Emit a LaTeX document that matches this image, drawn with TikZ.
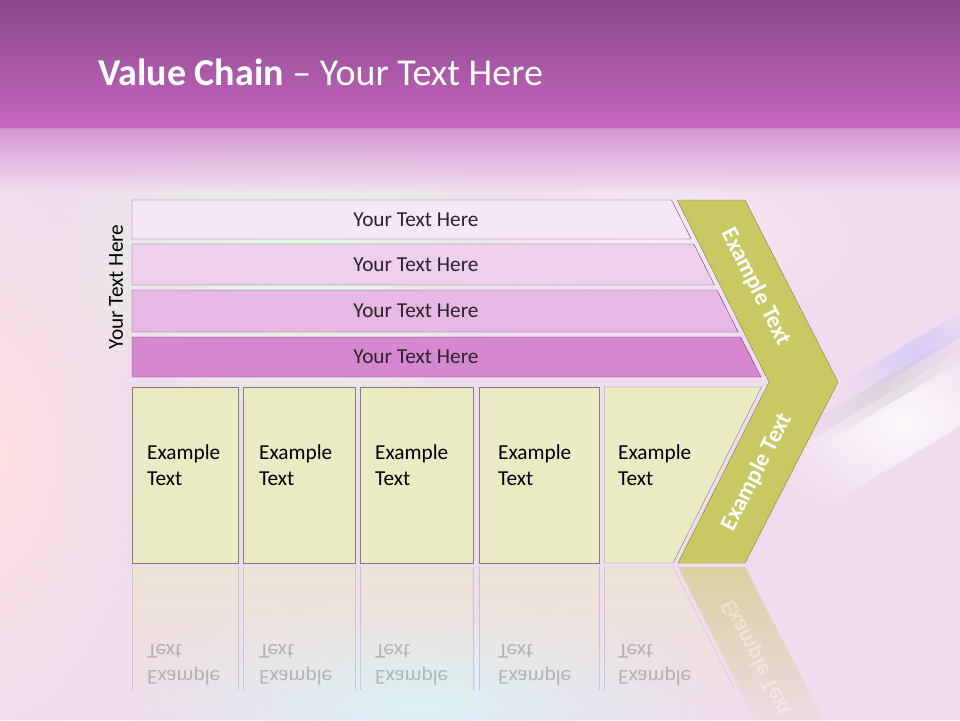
\documentclass[tikz,border=0pt]{standalone}
\usepackage{fontspec}
\setmainfont{Carlito}
\usetikzlibrary{fadings}
\definecolor{bandtop}{RGB}{137,72,137}
\definecolor{bandbot}{RGB}{197,102,192}
\definecolor{paper}{RGB}{240,220,239}
\definecolor{barA}{RGB}{246,232,246}
\definecolor{barB}{RGB}{238,208,237}
\definecolor{barC}{RGB}{230,184,228}
\definecolor{barD}{RGB}{213,136,208}
\definecolor{barline}{RGB}{125,55,125}
\definecolor{bartextcol}{RGB}{45,35,45}
\definecolor{boxfill}{RGB}{234,234,196}
\definecolor{boxline}{RGB}{128,128,118}
\definecolor{chevfill}{RGB}{201,201,99}
\definecolor{chevline}{RGB}{130,130,60}
\tikzfading[name=softglow, inner color=transparent!0, outer color=transparent!100]
\tikzfading[name=reflfade, top color=transparent!45, bottom color=transparent!100]
\begin{document}
\begin{tikzpicture}[x=1pt, y=-1pt,
    bartext/.style={font=\fontsize{21.3}{25}\selectfont, text=bartextcol},
    boxtext/.style={font=\fontsize{21.3}{26}\selectfont, align=left, anchor=west, inner sep=0pt},
    chevtext/.style={font=\fontsize{23.5}{27}\selectfont\bfseries, text=white}]
    \useasboundingbox (0,0) rectangle (960,720);
    % background
    \fill[paper] (0,0) rectangle (960,720);
    \fill[pink!45!white, path fading=softglow] (-200,150) rectangle (160,760);
    \fill[green!12!white, path fading=softglow] (40,110) rectangle (560,420);
    \fill[white, fill opacity=0.5, path fading=softglow] (440,150) rectangle (860,330);
    \fill[cyan!14!white, path fading=softglow] (120,590) rectangle (720,820);
    \fill[white, fill opacity=0.8, path fading=softglow, rotate around={31:(890,410)}] (750,395) rectangle (1040,460);
    \fill[black!20, fill opacity=0.5, path fading=softglow, rotate around={31:(885,395)}] (770,380) rectangle (1010,405);
    \fill[blue!25, fill opacity=0.5, path fading=softglow, rotate around={31:(900,362)}] (820,350) rectangle (1020,372);
    \shade[top color=bandtop, bottom color=bandbot] (0,0) rectangle (960,128);
    \shade[top color=bandbot!65!paper, bottom color=paper, fill opacity=0.9] (0,128) rectangle (960,190);
    \node[anchor=base west, text=white, font=\fontsize{38}{42}\selectfont, inner sep=0pt] (title) at (98,85) {\textbf{Value Chain} – Your Text Here};
    % bars
    \filldraw[fill=barA, draw=barline] (132,200) -- (671.5,200) -- (691.2,239) -- (132,239) -- cycle;
    \filldraw[fill=barB, draw=barline] (132,244) -- (693.7,244) -- (714.4,285) -- (132,285) -- cycle;
    \filldraw[fill=barC, draw=barline] (132,290) -- (717,290) -- (738.2,332) -- (132,332) -- cycle;
    \filldraw[fill=barD, draw=barline] (132,337) -- (740.7,337) -- (760.9,377) -- (132,377) -- cycle;
    \node[bartext] (barone) at (416,219.5) {Your Text Here};
    \node[bartext] (bartwo) at (416,265) {Your Text Here};
    \node[bartext] (barthree) at (416,311) {Your Text Here};
    \node[bartext] (barfour) at (416,357) {Your Text Here};
    \node[bartext, text=black, rotate=90] (sidelabel) at (116,287) {Your Text Here};
    % boxes
    \filldraw[fill=boxfill, draw=boxline] (132,387) rectangle (238.5,563);
    \filldraw[fill=boxfill, draw=boxline] (243.5,387) rectangle (355.5,563);
    \filldraw[fill=boxfill, draw=boxline] (360.5,387) rectangle (473.5,563);
    \filldraw[fill=boxfill, draw=boxline] (479.5,387) rectangle (599,563);
    \filldraw[fill=boxfill, draw=boxline] (604.5,387) -- (761.5,387) -- (673,563) -- (604.5,563) -- cycle;
    \node[boxtext] (boxone) at (147,465) {Example\\Text};
    \node[boxtext] (boxtwo) at (259,465) {Example\\Text};
    \node[boxtext] (boxthree) at (375,465) {Example\\Text};
    \node[boxtext] (boxfour) at (498,465) {Example\\Text};
    \node[boxtext] (boxfive) at (618,465) {Example\\Text};
    % chevron
    \filldraw[fill=chevfill, draw=chevline] (677,200) -- (745,200) -- (838,382) -- (745,563) -- (678,563) -- (769,382) -- cycle;
    \node[chevtext, rotate=-63] (chevup) at (756,287) {Example Text};
    \node[chevtext, rotate=63] (chevdown) at (757,472) {Example Text};
    % reflection
    \fill[boxfill, path fading=reflfade] (132,567) rectangle (238.5,741);
    \fill[boxfill, path fading=reflfade] (243.5,567) rectangle (355.5,741);
    \fill[boxfill, path fading=reflfade] (360.5,567) rectangle (473.5,741);
    \fill[boxfill, path fading=reflfade] (479.5,567) rectangle (599,741);
    \fill[boxfill, path fading=reflfade] (604.5,567) -- (673,567) -- (761.5,743) -- (604.5,743) -- cycle;
    \fill[chevfill, path fading=reflfade] (678,567) -- (745,567) -- (838,748) -- (769,748) -- cycle;
    \foreach \lx in {132,238.5,243.5,355.5,360.5,473.5,479.5,599,604.5}
        \draw[boxline, draw opacity=0.3] (\lx,567) -- (\lx,690);
    \draw[boxline, draw opacity=0.3] (673,567) -- (735,690);
    \node[boxtext, text opacity=0.22, yscale=-1] (mirone) at (147,665) {Example\\Text};
    \node[boxtext, text opacity=0.22, yscale=-1] (mirtwo) at (259,665) {Example\\Text};
    \node[boxtext, text opacity=0.22, yscale=-1] (mirthree) at (375,665) {Example\\Text};
    \node[boxtext, text opacity=0.22, yscale=-1] (mirfour) at (498,665) {Example\\Text};
    \node[boxtext, text opacity=0.22, yscale=-1] (mirfive) at (618,665) {Example\\Text};
    \node[chevtext, text opacity=0.35, yscale=-1, rotate=63] (mirchev) at (757,658) {Example Text};
\end{tikzpicture}
\end{document}
